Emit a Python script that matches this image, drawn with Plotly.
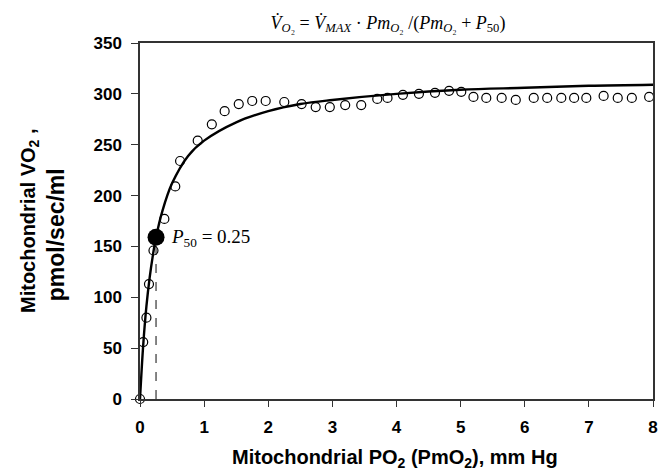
import plotly.graph_objects as go

# Measured points (mitochondrial PO2, mm Hg  vs  VO2, pmol/sec/ml)
pmo2 = [0, 0.05, 0.10, 0.14, 0.21, 0.38, 0.55, 0.625, 0.90, 1.12, 1.32, 1.54, 1.75, 1.96,
        2.25, 2.52, 2.74, 2.96, 3.20, 3.45, 3.70, 3.86, 4.10, 4.35, 4.60, 4.82, 5.01,
        5.20, 5.40, 5.64, 5.86, 6.14, 6.35, 6.57, 6.77, 6.96, 7.23, 7.45, 7.67, 7.94]
vo2 = [0, 56, 80, 113, 146, 177, 209, 234, 254, 270, 283, 290, 293, 293,
       292, 290, 287, 287, 289, 289, 295, 296, 299, 300, 301, 303, 302,
       297, 296, 296, 294, 296, 296, 296, 296, 296, 298, 296, 296, 297]

# Fitted curve
fit_x = [0, 0.05, 0.1, 0.15, 0.2, 0.25, 0.35, 0.5, 0.75, 1, 1.5, 2, 2.5, 3, 4, 5, 6, 7, 8]
fit_y = [0, 53, 91, 119, 141, 159, 185, 212, 239, 254, 272, 283, 290, 294, 300, 304, 306, 308, 309]

# P50 marker
p50_x = [0.25]
p50_y = [159]

x_ticks = [0, 1, 2, 3, 4, 5, 6, 7, 8]
y_ticks = [0, 50, 100, 150, 200, 250, 300, 350]

fig = go.Figure()

fig.add_trace(go.Scatter(x=[p50_x[0], p50_x[0]], y=[0, p50_y[0]], mode="lines",
                         line=dict(color="#333", width=1.2, dash="dash"),
                         showlegend=False, hoverinfo="skip"))
fig.add_trace(go.Scatter(x=fit_x, y=fit_y, mode="lines",
                         line=dict(color="black", width=2.4, shape="spline", smoothing=1.0),
                         showlegend=False))
fig.add_trace(go.Scatter(x=pmo2, y=vo2, mode="markers", cliponaxis=False,
                         marker=dict(symbol="circle-open", size=9, color="black",
                                     line=dict(width=1.2, color="black")),
                         showlegend=False))
fig.add_trace(go.Scatter(x=p50_x, y=p50_y, mode="markers", cliponaxis=False,
                         marker=dict(symbol="circle", size=17, color="black"),
                         showlegend=False))

fig.add_annotation(x=p50_x[0], y=p50_y[0], xref="x", yref="y",
                   text="<i>P</i><sub>50</sub> = 0.25", showarrow=False,
                   xanchor="left", yanchor="middle", xshift=13, yshift=-1,
                   font=dict(family="Liberation Serif", size=19, color="black"))

# Y-axis title as two rotated lines
fig.add_annotation(xref="paper", yref="paper", x=0, y=0.5, xshift=-111,
                   text="Mitochondrial VO<sub>2</sub> ,", textangle=-90, showarrow=False,
                   xanchor="center", yanchor="middle",
                   font=dict(family="Liberation Sans", size=20, weight="bold", color="black"))
fig.add_annotation(xref="paper", yref="paper", x=0, y=0.46, xshift=-84,
                   text="pmol/sec/ml", textangle=-90, showarrow=False,
                   xanchor="center", yanchor="middle",
                   font=dict(family="Liberation Sans", size=23, weight="bold", color="black"))

# X-axis title
fig.add_annotation(xref="paper", yref="paper", x=0.497, y=0, yshift=-59,
                   text="Mitochondrial PO<sub>2</sub> (PmO<sub>2</sub>), mm Hg",
                   showarrow=False, xanchor="center", yanchor="middle",
                   font=dict(family="Liberation Sans", size=20, weight="bold", color="black"))

title_txt = ("<i>V\u0307</i><sub><i>O</i>\u2082</sub> = <i>V\u0307</i><sub><i>MAX</i></sub> \u00b7 "
             "<i>Pm</i><sub><i>O</i>\u2082</sub> /(<i>Pm</i><sub><i>O</i>\u2082</sub> + "
             "<i>P</i><sub>50</sub>)")

fig.update_layout(
    width=669, height=473,
    margin=dict(l=140, r=16, t=43, b=74, autoexpand=False),
    paper_bgcolor="white", plot_bgcolor="white",
    title=dict(text=title_txt, x=0.58, xanchor="center", y=0.953, yanchor="middle",
               font=dict(family="Liberation Serif", size=18, color="black")),
    font=dict(family="Liberation Sans", color="black"),
    xaxis=dict(range=[0, 8], tickvals=x_ticks, ticks="outside", ticklen=6,
               tickcolor="#333", showgrid=False, zeroline=False, automargin=False,
               showline=True, linecolor="#333", linewidth=1.5, mirror=True,
               ticklabelstandoff=6,
               tickfont=dict(family="Liberation Sans", size=17, weight="bold")),
    yaxis=dict(range=[0, 350], tickvals=y_ticks, ticks="outside", ticklen=7,
               tickcolor="#333", showgrid=False, zeroline=False, automargin=False,
               showline=True, linecolor="#333", linewidth=1.5, mirror=True,
               ticklabelstandoff=6,
               tickfont=dict(family="Liberation Sans", size=17, weight="bold")),
)

fig.write_html("out.html", config={"displayModeBar": False},
               post_script="document.body.style.margin='0';")
